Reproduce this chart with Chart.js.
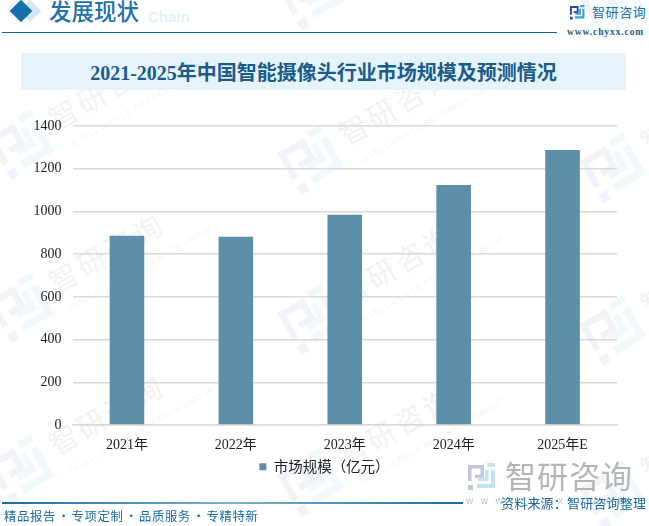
<!DOCTYPE html>
<html lang="zh">
<head>
<meta charset="utf-8">
<title>智能摄像头行业市场规模</title>
<script src="https://cdn.jsdelivr.net/npm/chart.js@4"></script>
<style>
  html, body { margin: 0; padding: 0; background: #fff; }
  body { width: 649px; height: 526px; position: relative; overflow: hidden; font-family: "Noto Sans CJK SC", sans-serif; }
  .abs { position: absolute; white-space: nowrap; line-height: 1; }
  #marks { position: absolute; inset: 0; overflow: hidden; }
  .mark { position: absolute; width: 0; height: 0; }
  .mark svg { position: absolute; left: -27px; top: -27px; width: 54px; height: 54px; transform: rotate(-30deg); opacity: .06; }
  .mark .cn { position: absolute; left: 28px; top: -46px; font-size: 29px; letter-spacing: 3px; color: #f3f3f3; white-space: nowrap; transform: rotate(-30deg); transform-origin: 0 50%; }
  .mark .en { position: absolute; left: 48px; top: -4px; font-size: 8.5px; letter-spacing: .8px; color: #f5f5f5; white-space: nowrap; font-family: "Liberation Sans"; transform: rotate(-30deg); transform-origin: 0 50%; }
  #myChart { position: absolute; left: 0; top: 0; }
  .d1 { position: absolute; left: 13px; top: 3px; width: 16px; height: 16px; background: #1470ad; transform: rotate(45deg); }
  .d2 { position: absolute; left: 22px; top: 3px; width: 16px; height: 16px; background: #d5e6f1; transform: rotate(45deg); }
  .gap { display: inline-block; width: 15.5px; text-align: center; letter-spacing: 0; }
</style>
</head>
<body>
<svg width="0" height="0" style="position:absolute">
  <symbol id="logo" viewBox="0 0 28 28">
    <path fill="#2b4796" d="M0 2h16v13H7v-3.5h5.5V5.5H3.5V18H0zM0 22h5v5H0z"/>
    <path fill="#3aa2dc" d="M19 0h8v4h-8zM23 7h4v18H9v-4h14zM17 7h3.5v11H10v-3.5h7z"/>
  </symbol>
</svg>
<div id="marks"></div>

<div class="d2"></div>
<div class="d1"></div>
<div class="abs" style="left:148px;top:9px;font-family:'Liberation Sans';font-weight:bold;font-size:15px;color:#e3f0fa">Chain</div>
<div class="abs" style="left:49px;top:-1px;font-size:22.5px;font-weight:500;color:#1f72ad">发展现状</div>
<div class="abs" style="left:2px;top:32px;width:555px;height:1px;background:#0f659f"></div>

<svg class="abs" style="left:570px;top:5px;width:15px;height:15px"><use href="#logo"/></svg>
<div class="abs" style="left:592px;top:5px;font-size:13px;letter-spacing:.6px;color:#1e6ea6">智研咨询</div>
<div class="abs" style="left:567px;top:28px;font-family:'Liberation Serif';font-weight:bold;font-size:9.5px;letter-spacing:.9px;color:#1f5f8c">www.chyxx.com</div>

<div class="abs" style="left:21px;top:53px;width:605px;height:37px;background:#e6f3fb"></div>
<div class="abs" style="left:21px;top:53px;width:605px;height:37px;line-height:40px;text-align:center;font-family:'Liberation Serif','Noto Sans CJK SC';font-weight:bold;font-size:20px;color:#1a5c8a">2021-2025年中国智能摄像头行业市场规模及预测情况</div>

<canvas id="myChart" width="649" height="526"></canvas>

<svg class="abs" style="left:468px;top:463px;width:28px;height:28px;opacity:.3"><use href="#logo"/></svg>
<div class="abs" style="left:505px;top:459px;font-size:31px;letter-spacing:1px;color:#b5b5b5">智研咨询</div>
<div class="abs" style="left:466px;top:496px;font-family:'Liberation Sans';font-size:10px;letter-spacing:7.5px;color:#c4c4c4">www.chyxx.com</div>

<div class="abs" style="left:2px;top:502px;width:461px;height:1.5px;background:linear-gradient(90deg,#1c6a9e,#7fb0cf 50%,#1c6a9e)"></div>
<div class="abs" style="left:4px;top:510px;font-size:12.3px;letter-spacing:.7px;color:#1b6aa5">精品报告<span class="gap">·</span>专项定制<span class="gap">·</span>品质服务<span class="gap">·</span>专精特新</div>
<div class="abs" style="left:501px;top:496px;font-size:13px;letter-spacing:.2px;color:#1c6a9e">资料来源：智研咨询整理</div>

<script>
const categories = ["2021年", "2022年", "2023年", "2024年", "2025年E"];
const marketSize = [886, 881, 984, 1124, 1288];
const seriesName = "市场规模（亿元）";
const yTicks = [0, 200, 400, 600, 800, 1000, 1200, 1400];

// background watermark, logo centres
const markSpots = [
    [22, -20], [312, -5], [614, 5],
    [22, 145], [312, 160], [614, 168],
    [22, 308], [312, 320], [614, 331],
    [22, 470], [312, 482], [614, 495]
];
const marksBox = document.getElementById('marks');
markSpots.forEach(p => {
    const m = document.createElement('div');
    m.className = 'mark';
    m.style.left = p[0] + 'px';
    m.style.top = p[1] + 'px';
    m.innerHTML = `<svg><use href="#logo"/></svg><div class="cn">智研咨询</div><div class="en">INTELLIGENCE RESEARCH GROUP</div>`;
    marksBox.appendChild(m);
});

const axisFont = { family: "'Liberation Serif','Noto Sans CJK SC'", size: 14 };

new Chart(document.getElementById('myChart'), {
    type: 'bar',
    data: {
        labels: categories,
        datasets: [{
            label: seriesName,
            data: marketSize,
            backgroundColor: '#5d8fa8',
            categoryPercentage: 1,
            barPercentage: 0.318
        }]
    },
    options: {
        responsive: false,
        animation: false,
        // left and right equal so the legend stays centred on the page
        layout: { padding: { left: 32, top: 126, right: 32, bottom: 42 } },
        plugins: {
            tooltip: { enabled: false },
            legend: {
                position: 'bottom',
                labels: {
                    boxWidth: 7,
                    boxHeight: 7,
                    padding: 5,
                    color: '#222',
                    font: { family: "'Noto Sans CJK SC'", size: 14.5 }
                }
            }
        },
        scales: {
            x: {
                grid: { display: false },
                border: { color: '#d9d9d9', width: 1.5 },
                ticks: { color: '#222', font: axisFont, padding: 3.5, maxRotation: 0 },
                afterFit: scale => { scale.height = 29.5; }
            },
            y: {
                min: 0,
                max: 1400,
                afterBuildTicks: scale => { scale.ticks = yTicks.map(v => ({ value: v })); },
                grid: { color: '#d9d9d9', lineWidth: 1.5, drawTicks: false },
                border: { display: false },
                ticks: { color: '#222', font: axisFont, padding: 11, callback: v => String(v) },
                afterFit: scale => { scale.width = 40.5; }
            }
        }
    }
});
</script>
</body>
</html>
